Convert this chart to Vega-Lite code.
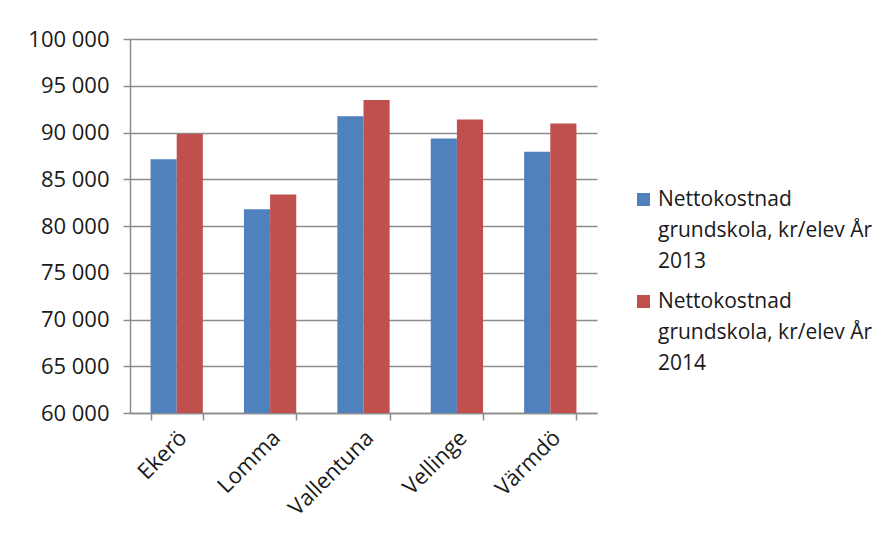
{
  "$schema": "https://vega.github.io/schema/vega-lite/v6.json",
  "width": 467,
  "height": 374,
  "autosize": {"type": "none"},
  "padding": {"left": 130, "top": 39, "right": 298, "bottom": 129},
  "background": "white",
  "config": {
    "view": {"stroke": null},
    "font": "Open Sans",
    "axis": {"labelFont": "Open Sans", "labelFontSize": 22, "labelColor": "#1a1a1a", "domainColor": "#8c8c8c", "tickColor": "#8c8c8c", "gridColor": "#8c8c8c", "domainWidth": 1.5, "tickWidth": 1.5, "gridWidth": 1.5}
  },
  "data": {
    "values": [
      {"kommun": "Ekerö", "year": "2013", "value": 87150},
      {"kommun": "Ekerö", "year": "2014", "value": 89830},
      {"kommun": "Lomma", "year": "2013", "value": 81800},
      {"kommun": "Lomma", "year": "2014", "value": 83370},
      {"kommun": "Vallentuna", "year": "2013", "value": 91750},
      {"kommun": "Vallentuna", "year": "2014", "value": 93470},
      {"kommun": "Vellinge", "year": "2013", "value": 89370},
      {"kommun": "Vellinge", "year": "2014", "value": 91400},
      {"kommun": "Värmdö", "year": "2013", "value": 87940},
      {"kommun": "Värmdö", "year": "2014", "value": 90970}
    ]
  },
  "mark": {"type": "bar"},
  "encoding": {
    "x": {
      "field": "kommun",
      "type": "nominal",
      "sort": null,
      "scale": {"paddingInner": 0.44, "paddingOuter": 0.22},
      "axis": {"title": null, "labelAngle": -45, "labelAlign": "right", "labelBaseline": "middle", "tickBand": "extent", "tickSize": 7, "labelPadding": 14, "labelOffset": 6, "grid": false}
    },
    "xOffset": {"field": "year", "type": "nominal"},
    "y": {
      "field": "value",
      "type": "quantitative",
      "scale": {"domain": [60000, 100000], "zero": false, "nice": false},
      "axis": {"title": null, "values": [60000, 65000, 70000, 75000, 80000, 85000, 90000, 95000, 100000], "labelExpr": "replace(format(datum.value, ','), ',', ' ')", "tickSize": 7, "labelPadding": 14, "grid": true}
    },
    "y2": {"datum": 60000},
    "color": {
      "field": "year",
      "type": "nominal",
      "scale": {"domain": ["2013", "2014"], "range": ["#4f81bd", "#c0504d"]},
      "legend": {
        "title": null,
        "orient": "none",
        "legendX": 503,
        "legendY": 150,
        "symbolType": "square",
        "symbolSize": 169,
        "symbolStrokeWidth": 0,
        "labelFont": "Open Sans",
        "labelFontSize": 21,
        "labelColor": "#1a1a1a",
        "labelLimit": 400,
        "labelOffset": 4,
        "labelExpr": "[' Nettokostnad', 'grundskola, kr/elev År', datum.label]",
        "rowPadding": 18,
        "encode": {"labels": {"update": {"lineHeight": {"value": 31}}}}
      }
    }
  }
}
